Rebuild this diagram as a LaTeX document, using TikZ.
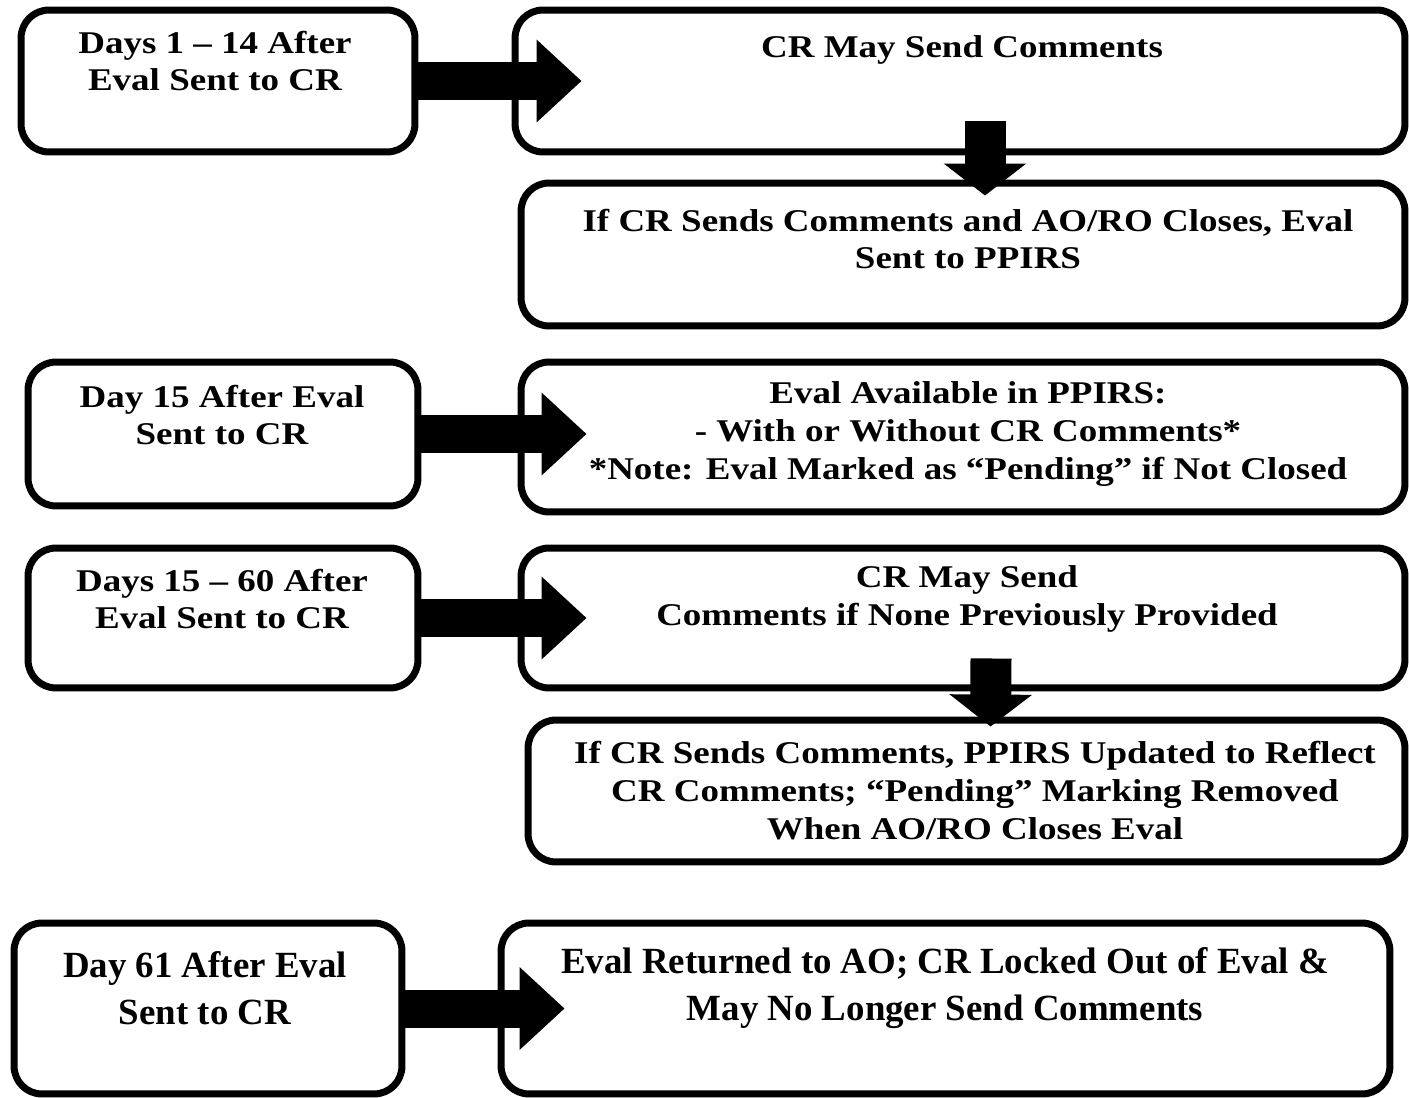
\documentclass[tikz,border=0pt]{standalone}
\usepackage{fontspec}
\setmainfont{Liberation Serif}
\newfontfamily\stagefont[FakeStretch=1.17]{Liberation Serif}
\usetikzlibrary{positioning,arrows.meta}

\tikzset{
  stage/.style={draw=black, line width=0.14cm, rounded corners=0.56cm, inner sep=0pt},
  lbl/.style={font=\stagefont\fontsize{18}{21.6}\selectfont\bfseries, align=center, inner sep=0pt},
  biglbl/.style={font=\fontsize{21}{26.7}\selectfont\bfseries, align=center, inner sep=0pt},
  flow/.style={line width=0.76cm, -{Triangle[length=0.9cm,width=1.6cm]}},
  drop/.style={line width=0.82cm, -{Triangle[length=0.64cm,width=1.62cm]}},
}

\begin{document}
\begin{tikzpicture}[x=0.02cm, y=-0.02cm]
\useasboundingbox (0,0) rectangle (1409,1098);
% boxes
\node[stage, minimum width=7.88cm, minimum height=2.84cm] (d1) at (218,81) {};
\node[stage, minimum width=17.8cm, minimum height=2.84cm] (c1) at (960,81) {};
\node[stage, minimum width=17.68cm, minimum height=2.86cm] (c2) at (963,254.5) {};
\node[stage, minimum width=7.8cm, minimum height=2.88cm] (d2) at (223,434) {};
\node[stage, minimum width=17.68cm, minimum height=3.0cm] (c3) at (963,437) {};
\node[stage, minimum width=7.8cm, minimum height=2.8cm] (d3) at (223,618) {};
\node[stage, minimum width=17.68cm, minimum height=2.8cm] (c4) at (963,618) {};
\node[stage, minimum width=17.54cm, minimum height=2.84cm] (c5) at (966.5,791) {};
\node[stage, minimum width=7.76cm, minimum height=3.42cm] (d4) at (208,1008.5) {};
\node[stage, minimum width=17.78cm, minimum height=3.42cm] (c6) at (945.5,1008.5) {};
% texts
\node[lbl] (t1) at (215,61) {Days 1 – 14 After\\Eval Sent to CR};
\node[lbl] (u1) at (962,50) {CR May Send Comments};
\node[lbl] (u2) at (968,239) {If CR Sends Comments and AO/RO Closes, Eval\\Sent to PPIRS};
\node[lbl] (t2) at (222,415) {Day 15 After Eval\\Sent to CR};
\node[lbl] (u3) at (968,434) {Eval Available in PPIRS:\\- With or Without CR Comments*\\*Note: Eval Marked as “Pending” if Not Closed};
\node[lbl] (t3) at (222,599) {Days 15 – 60 After\\Eval Sent to CR};
\node[lbl] (u4) at (967,599) {CR May Send\\Comments if None Previously Provided};
\node[lbl] (u5) at (975,791) {If CR Sends Comments, PPIRS Updated to Reflect\\CR Comments; “Pending” Marking Removed\\When AO/RO Closes Eval};
\node[biglbl] (t4) at (205,988) {Day 61 After Eval\\Sent to CR};
\node[biglbl] (u6) at (945,988) {Eval Returned to AO; CR Locked Out of Eval \&\\May No Longer Send Comments};
% arrows
\draw[flow] (d1.east) -- (d1.east -| c1.west) -- ++(70,0);
\draw[flow] (d2.east) -- (d2.east -| c3.west) -- ++(69,0);
\draw[flow] (d3.east) -- (d3.east -| c4.west) -- ++(69,0);
\draw[flow] (d4.east) -- (d4.east -| c6.west) -- ++(67,0);
\draw[drop] ([shift={(25,-34)}]c1.south) -- ([shift={(22,16)}]c2.north);
\draw[drop] ([shift={(28,-33)}]c4.south) -- ([shift={(24,10)}]c5.north);
\end{tikzpicture}
\end{document}
